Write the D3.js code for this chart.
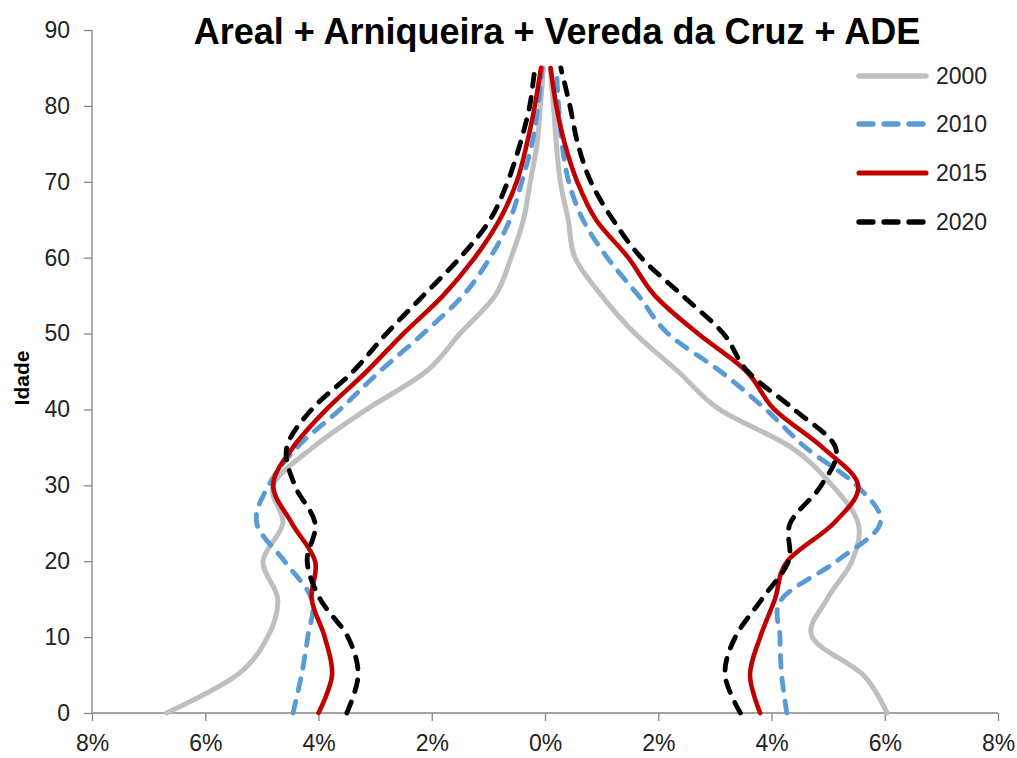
<!DOCTYPE html>
<html>
<head>
<meta charset="utf-8">
<script src="https://cdn.jsdelivr.net/npm/d3@7"></script>
<style>
  body { margin: 0; background: #fff; }
  svg { display: block; }
</style>
</head>
<body>
<svg id="chart" width="1017" height="758"></svg>
<script>
// ---- data ----
const title = "Areal + Arniqueira + Vereda da Cruz + ADE";
const yLabel = "Idade";
const ages = [0, 5, 10, 15, 20, 25, 30, 35, 40, 45, 50, 55, 60, 65, 70, 75, 80, 85];
const years = ["2000", "2010", "2015", "2020"];
const xTicks = [-8, -6, -4, -2, 0, 2, 4, 6, 8];
const yTicks = [0, 10, 20, 30, 40, 50, 60, 70, 80, 90];

// left side and right side of the pyramid, % of population
const left2000  = [6.68, 5.44, 4.9, 4.72, 4.98, 4.63, 4.8, 4.1, 3.15, 2.1, 1.5, 0.88, 0.6, 0.38, 0.26, 0.14, 0.08, 0.03];
const right2000 = [6.04, 5.62, 4.72, 4.98, 5.42, 5.53, 5.07, 4.35, 3.08, 2.35, 1.59, 1.0, 0.53, 0.41, 0.27, 0.2, 0.15, 0.09];
const left2010  = [4.45, 4.3, 4.19, 4.12, 4.6, 5.09, 4.88, 4.38, 3.62, 2.92, 2.15, 1.45, 0.97, 0.62, 0.41, 0.23, 0.12, 0.05];
const right2010 = [4.27, 4.18, 4.15, 4.18, 5.15, 5.92, 5.5, 4.6, 3.9, 3.1, 2.17, 1.65, 1.1, 0.67, 0.42, 0.3, 0.24, 0.2];
const left2015  = [4.0, 3.76, 3.89, 4.12, 4.06, 4.47, 4.8, 4.45, 3.86, 3.15, 2.5, 1.8, 1.24, 0.8, 0.5, 0.32, 0.18, 0.07];
const right2015 = [3.8, 3.62, 3.8, 4.06, 4.28, 5.1, 5.53, 4.9, 4.05, 3.56, 2.7, 1.94, 1.47, 0.9, 0.57, 0.35, 0.2, 0.1];
const left2020  = [3.5, 3.3, 3.48, 3.97, 4.2, 4.06, 4.42, 4.56, 4.12, 3.39, 2.8, 2.15, 1.5, 0.97, 0.66, 0.44, 0.27, 0.18];
const right2020 = [3.45, 3.18, 3.36, 3.83, 4.3, 4.33, 4.88, 5.13, 4.4, 3.58, 3.15, 2.43, 1.7, 1.2, 0.81, 0.58, 0.44, 0.28];

// ---- build series ----
const series = [
  { name: years[0], left: left2000, right: right2000, color: "#BFBFBF", width: 5, dash: null },
  { name: years[1], left: left2010, right: right2010, color: "#5B9BD5", width: 4.8, dash: "12,11" },
  { name: years[2], left: left2015, right: right2015, color: "#C00000", width: 4.6, dash: null },
  { name: years[3], left: left2020, right: right2020, color: "#000000", width: 4.8, dash: "12,11" }
];

const svg = d3.select("#chart");
const m = { left: 92, right: 998, top: 30, bottom: 713 };

const x = d3.scaleLinear().domain([-8, 8]).range([m.left, m.right]);
const y = d3.scaleLinear().domain([0, 90]).range([m.bottom, m.top]);

const fontFam = "'Liberation Sans', Arial, sans-serif";
const axisColor = "#868686";

// ---- axes ----
const xAxis = svg.append("g")
  .attr("transform", `translate(0,${m.bottom})`)
  .call(d3.axisBottom(x).tickValues(xTicks).tickSize(8).tickPadding(14)
        .tickFormat(d => Math.abs(d) + "%"));
const yAxis = svg.append("g")
  .attr("transform", `translate(${m.left},0)`)
  .call(d3.axisLeft(y).tickValues(yTicks).tickSize(8).tickPadding(14)
        .tickFormat(d => d));

[xAxis, yAxis].forEach(g => {
  g.select(".domain").attr("stroke", axisColor).attr("stroke-width", 1.3);
  g.selectAll(".tick line").attr("stroke", axisColor).attr("stroke-width", 1.3);
  g.selectAll(".tick text").attr("fill", "#222").style("font-family", fontFam).style("font-size", "23px");
});
xAxis.select(".domain").attr("d", `M${m.left},0H${m.right}`);
yAxis.select(".domain").attr("d", `M0,${m.top}V${m.bottom}`);

// ---- lines ----
const line = d3.line()
  .x(d => x(d.v))
  .y(d => y(d.age))
  .curve(d3.curveCardinal.tension(0));

const gLines = svg.append("g");
series.forEach(s => {
  ["left", "right"].forEach(side => {
    const pts = ages.map((a, i) => ({ age: a, v: side === "left" ? -s[side][i] : s[side][i] }));
    gLines.append("path")
      .datum(pts)
      .attr("d", line)
      .attr("fill", "none")
      .attr("stroke", s.color)
      .attr("stroke-width", s.width)
      .attr("stroke-linecap", "round")
      .attr("stroke-linejoin", "round")
      .attr("stroke-dasharray", s.dash);
  });
});

// ---- legend ----
const legendY = [76, 124, 173, 222];
const lg = svg.append("g");
series.forEach((s, i) => {
  lg.append("line")
    .attr("x1", 859).attr("x2", 926)
    .attr("y1", legendY[i]).attr("y2", legendY[i])
    .attr("stroke", s.color)
    .attr("stroke-width", s.width + 0.5)
    .attr("stroke-linecap", "round")
    .attr("stroke-dasharray", s.dash ? "14,11" : null);
  lg.append("text")
    .attr("x", 936).attr("y", legendY[i])
    .attr("dy", "0.36em")
    .style("font-family", fontFam).style("font-size", "23px")
    .attr("fill", "#222")
    .text(s.name);
});

// ---- title ----
svg.append("text")
  .attr("x", 557).attr("y", 44)
  .attr("text-anchor", "middle")
  .style("font-family", fontFam).style("font-size", "36px").style("font-weight", "bold")
  .attr("fill", "#000")
  .text(title);

// ---- y label ----
svg.append("text")
  .attr("transform", `translate(29,378) rotate(-90)`)
  .attr("text-anchor", "middle")
  .style("font-family", fontFam).style("font-size", "21px").style("font-weight", "bold")
  .attr("fill", "#000")
  .text(yLabel);
</script>
</body>
</html>
